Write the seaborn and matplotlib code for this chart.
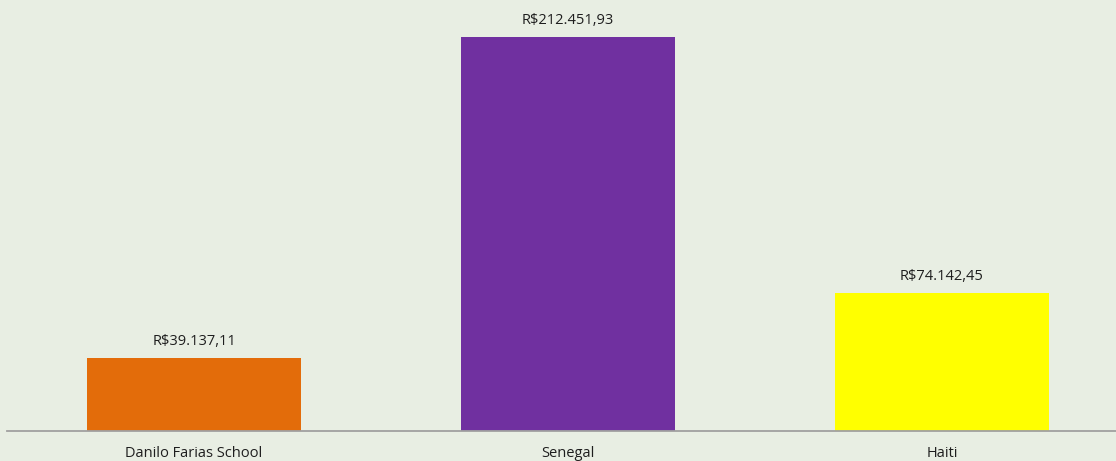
import matplotlib
matplotlib.use("Agg")
import matplotlib.pyplot as plt
import pandas as pd
import seaborn as sns

# values
categories = ["Danilo Farias School", "Senegal", "Haiti"]
amounts = [39137.11, 212451.93, 74142.45]
bar_colors = ["#E36C0A", "#7030A0", "#FFFF00"]

bg = "#E8EEE3"


def brl(v):
    # brazilian currency format: R$212.451,93
    s = f"{v:,.2f}"
    s = s.replace(",", "X").replace(".", ",").replace("X", ".")
    return "R$" + s


data = pd.DataFrame({"place": categories, "amount": amounts})

sns.set_style("white")
plt.rcParams["font.family"] = ["Open Sans", "DejaVu Sans"]

fig = plt.figure(figsize=(11.16, 4.61), dpi=100, facecolor=bg)
ax = fig.add_axes([7 / 1116, 30 / 461, 1122 / 1116, 431 / 461])
ax.set_facecolor(bg)

sns.barplot(data=data, x="place", y="amount", hue="place",
            palette=bar_colors, width=0.572, legend=False, ax=ax,
            saturation=1, linewidth=0, edgecolor="none")

ax.set_xlim(-0.5, 2.5)
ax.set_ylim(0, 232350)

for i, v in enumerate(amounts):
    ax.annotate(brl(v), (i, v), xytext=(0, 12), textcoords="offset points",
                ha="center", va="center", fontsize=10.5, color="#1E1E1E")

for s in ["top", "right", "left"]:
    ax.spines[s].set_visible(False)
ax.spines["bottom"].set_color("#A0A0A0")
ax.spines["bottom"].set_linewidth(1.3)
ax.set_yticks([])
ax.set_xlabel("")
ax.set_ylabel("")
ax.tick_params(axis="x", length=0, pad=11, labelsize=10.5, labelcolor="#1E1E1E")

fig.savefig("out.png", dpi=100, facecolor=bg)
